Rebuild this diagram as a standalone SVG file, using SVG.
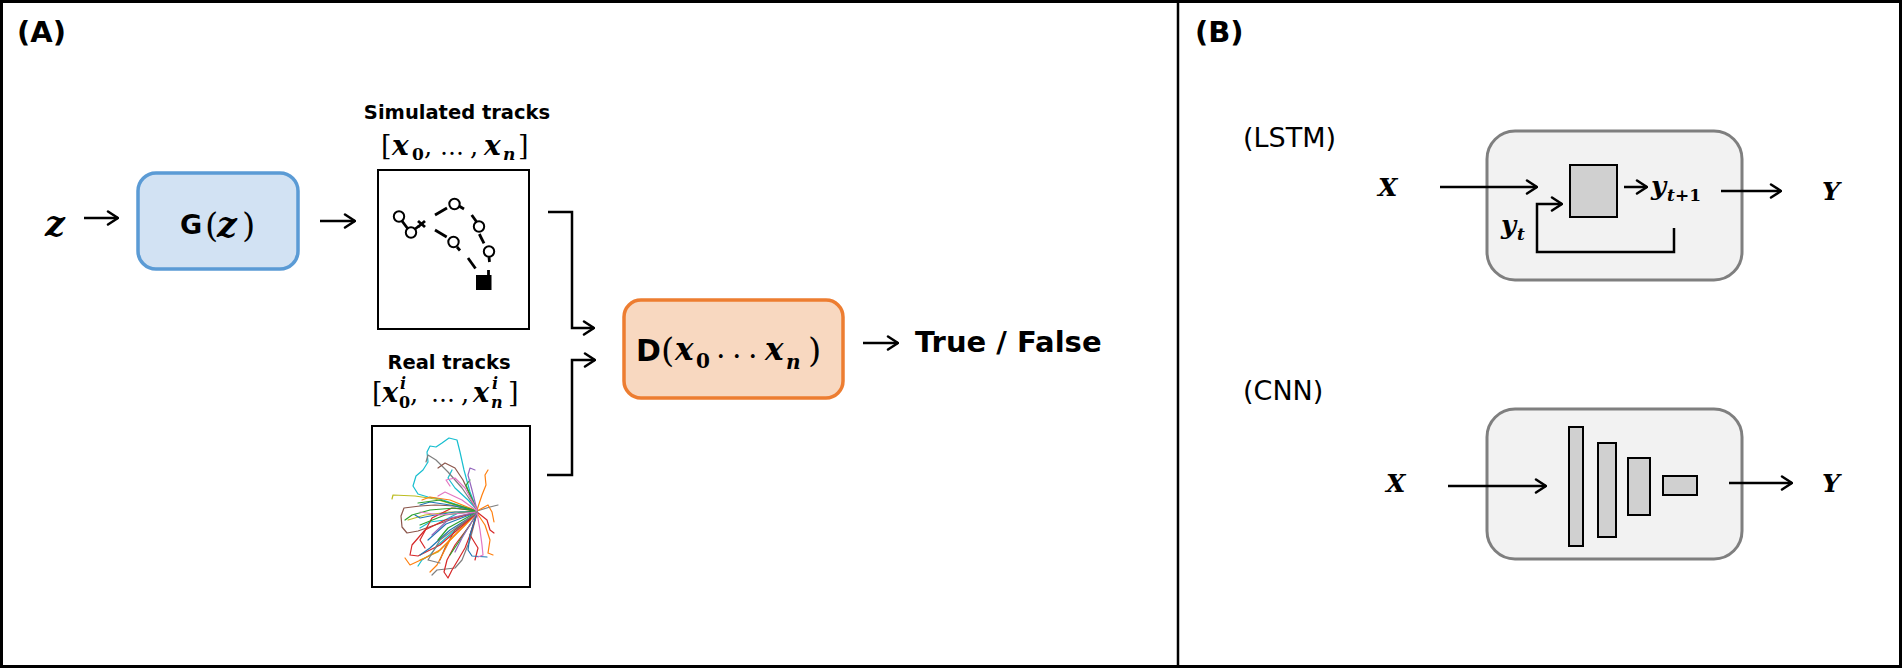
<svg xmlns="http://www.w3.org/2000/svg" width="1902" height="668" viewBox="0 0 1902 668">
<defs>
<marker id="ah" viewBox="0 0 13 16" markerWidth="13" markerHeight="16" refX="12" refY="8" orient="auto" markerUnits="userSpaceOnUse">
<path d="M2,1.5 L12,8 L2,14.5" fill="none" stroke="#000" stroke-width="2.5" stroke-linecap="round" stroke-linejoin="round"/>
</marker>
<style>
.lbl{font-family:"DejaVu Sans",sans-serif;font-weight:bold;fill:#000}
.reg{font-family:"DejaVu Sans",sans-serif;fill:#000}
.m{font-family:"DejaVu Serif",serif;font-weight:bold;font-style:italic;fill:#000}
.mr{font-family:"DejaVu Serif",serif;fill:#000}
.mb{font-family:"DejaVu Serif",serif;font-weight:bold;fill:#000}
.arr{fill:none;stroke:#000;stroke-width:2.5;marker-end:url(#ah)}
.frame{fill:#fff;stroke:#000;stroke-width:2}
.gbox{fill:#f2f2f2;stroke:#7f7f7f;stroke-width:3}
.cell{fill:#d0d0d0;stroke:#000;stroke-width:2}
.trk circle{fill:#fff;stroke:#000;stroke-width:2}
.trk line{stroke:#000;stroke-width:2.8}
.tangle path{fill:none;stroke-width:1.2;stroke-linejoin:round;stroke-linecap:round}
</style>
</defs>
<rect x="1.5" y="1.5" width="1899" height="665" fill="#fff" stroke="#000" stroke-width="3"/>
<line x1="1178" y1="1.5" x2="1178" y2="666.5" stroke="#000" stroke-width="2.5"/>

<text class="lbl" x="17" y="42" font-size="29">(A)</text>
<text class="lbl" x="1195" y="42" font-size="29">(B)</text>

<g id="z-input">
<text class="m" x="45" y="236" font-size="35">z</text>
</g>

<g id="generator">
<rect x="138" y="173" width="160" height="96" rx="18" fill="#d2e2f3" stroke="#5b9bd5" stroke-width="3.5"/>
<text y="234"><tspan class="lbl" x="180" font-size="27">G</tspan><tspan class="mr" x="205" y="237" font-size="34">(</tspan><tspan class="m" x="217" y="237" font-size="35">z</tspan><tspan class="mr" x="242" y="237" font-size="34">)</tspan></text>
</g>

<g id="simulated">
<text class="lbl" x="457" y="119" font-size="19.5" text-anchor="middle">Simulated tracks</text>
<text y="155"><tspan class="mr" x="381" font-size="27">[</tspan><tspan class="m" x="392" font-size="28">x</tspan><tspan class="mb" x="412" y="160" font-size="17">0</tspan><tspan class="mr" x="424" y="155" font-size="26">,</tspan><tspan class="mr" x="440" font-size="24">…</tspan><tspan class="mr" x="470" font-size="26">,</tspan><tspan class="m" x="484" font-size="28">x</tspan><tspan class="m" x="503" y="160" font-size="17">n</tspan><tspan class="mr" x="518" y="155" font-size="27">]</tspan></text>
<rect class="frame" x="378" y="170" width="151" height="159"/>
<g class="trk">
<line x1="402" y1="221" x2="408" y2="229"/>
<line x1="415" y1="229" x2="419" y2="226"/>
<line x1="418" y1="221" x2="425" y2="227"/>
<line x1="418" y1="227" x2="425" y2="221"/>
<line x1="435" y1="215" x2="447" y2="208"/>
<line x1="459" y1="206" x2="464" y2="209"/>
<line x1="471.7" y1="215" x2="476.7" y2="222"/>
<line x1="479.3" y1="234" x2="484" y2="243.3"/>
<line x1="489" y1="257" x2="489.5" y2="262"/>
<line x1="488.5" y1="270" x2="488.5" y2="276"/>
<line x1="435" y1="230" x2="446.7" y2="237"/>
<line x1="457" y1="247" x2="460" y2="250.5"/>
<line x1="468" y1="258" x2="475.5" y2="268.5"/>
<circle cx="399" cy="216.5" r="5.2"/>
<circle cx="411" cy="232.5" r="5.2"/>
<circle cx="454.5" cy="204" r="5.2"/>
<circle cx="479" cy="226.5" r="5.2"/>
<circle cx="453.5" cy="242" r="5.2"/>
<circle cx="489" cy="251.5" r="5.2"/>
<rect x="476" y="275" width="15.5" height="15" fill="#000"/>
</g>
</g>

<g id="real">
<text class="lbl" x="449" y="369" font-size="19.5" text-anchor="middle">Real tracks</text>
<text y="402"><tspan class="mr" x="372" font-size="27">[</tspan><tspan class="m" x="382" font-size="27">x</tspan><tspan class="m" x="400" y="389" font-size="16">i</tspan><tspan class="mb" x="399" y="408" font-size="16">0</tspan><tspan class="mr" x="410" y="402" font-size="26">,</tspan><tspan class="mr" x="431" font-size="24">…</tspan><tspan class="mr" x="461" font-size="26">,</tspan><tspan class="m" x="473" font-size="27">x</tspan><tspan class="m" x="492" y="389" font-size="16">i</tspan><tspan class="m" x="491" y="408" font-size="16">n</tspan><tspan class="mr" x="508" y="402" font-size="27">]</tspan></text>
<rect class="frame" x="372" y="426" width="158" height="161"/>
<g class="tangle">
<path stroke="#17becf" d="M477,510 L470,492 L464,470 L460,452 L457,440 L449,438 L442,443 L436,447 L430,446 L427,452 L428,462 L423,470 L416,476 L413,486 L418,494 L428,497 L440,499 L458,505 L477,511"/>
<path stroke="#17becf" d="M477,512 L455,530 L438,545 L430,555 L422,560 L418,566"/>
<path stroke="#17becf" d="M477,511 L460,512 L445,520 L430,522 L420,528"/>
<path stroke="#17becf" d="M477,510 L468,500 L455,488 L448,478 L452,470"/>
<path stroke="#7f7f7f" d="M477,510 L462,488 L448,472 L436,460 L428,455 L426,462"/>
<path stroke="#7f7f7f" d="M477,511 L490,507 L498,505"/>
<path stroke="#7f7f7f" d="M477,513 L470,540 L462,560 L455,568 L437,570 L432,575"/>
<path stroke="#8c564b" d="M477,511 L455,506 L435,505 L420,506 L404,508 L401,516 L402,527 L407,533 L418,531 L432,526 L450,520 L477,512"/>
<path stroke="#8c564b" d="M477,510 L463,480 L455,468 L445,463 L438,468"/>
<path stroke="#8c564b" d="M477,512 L455,530 L445,548 L440,560"/>
<path stroke="#bcbd22" d="M477,511 L455,505 L435,499 L415,496 L393,495 L392,499"/>
<path stroke="#bcbd22" d="M477,513 L455,535 L438,552 L420,560"/>
<path stroke="#bcbd22" d="M477,512 L450,512 L425,515 L408,520"/>
<path stroke="#ff7f0e" d="M477,510 L482,495 L486,485 L485,475 L488,470"/>
<path stroke="#ff7f0e" d="M477,513 L485,525 L490,540 L488,553 L493,555"/>
<path stroke="#ff7f0e" d="M477,513 L455,535 L440,550 L425,558 L410,565 L405,558"/>
<path stroke="#ff7f0e" d="M477,511 L450,500 L430,497 L422,500"/>
<path stroke="#ff7f0e" d="M477,512 L465,525 L450,540 L437,565 L430,572"/>
<path stroke="#ff7f0e" d="M477,511 L488,505 L492,512 L494,522"/>
<path stroke="#d62728" d="M477,513 L472,530 L465,548 L458,560 L452,570 L448,578 L444,572 L447,560 L455,545 L470,525"/>
<path stroke="#d62728" d="M477,512 L445,520 L425,530 L412,545 L410,555 L418,556 L440,545 L477,513"/>
<path stroke="#d62728" d="M477,512 L487,520 L490,530 L494,533"/>
<path stroke="#d62728" d="M477,512 L470,535 L478,548 L475,560"/>
<path stroke="#d62728" d="M477,511 L452,508 L432,518 L420,540 L425,548"/>
<path stroke="#1f77b4" d="M477,512 L455,512 L435,515 L420,518 L415,515"/>
<path stroke="#1f77b4" d="M477,513 L470,535 L468,550 L472,556 L487,557"/>
<path stroke="#1f77b4" d="M477,513 L450,530 L430,548 L420,555"/>
<path stroke="#1f77b4" d="M477,511 L450,505 L430,502 L420,505"/>
<path stroke="#1f77b4" d="M477,512 L446,524 L428,540"/>
<path stroke="#2ca02c" d="M477,511 L455,508 L430,510 L412,515 L405,520"/>
<path stroke="#2ca02c" d="M477,510 L470,495 L466,485 L470,480"/>
<path stroke="#2ca02c" d="M477,514 L460,540 L450,555"/>
<path stroke="#2ca02c" d="M477,511 L445,515 L420,525"/>
<path stroke="#2ca02c" d="M477,511 L440,500 L418,503"/>
<path stroke="#2ca02c" d="M477,512 L448,528 L438,540"/>
<path stroke="#9467bd" d="M477,510 L472,490 L468,475 L470,468 L475,470"/>
<path stroke="#9467bd" d="M477,513 L462,538 L455,552"/>
<path stroke="#9467bd" d="M477,512 L450,518 L432,535"/>
<path stroke="#e377c2" d="M477,510 L465,488 L455,478 L446,480 L450,486"/>
<path stroke="#e377c2" d="M477,513 L480,530 L482,545 L483,555 L478,557"/>
<path stroke="#e377c2" d="M477,512 L440,515 L420,512"/>
<path stroke="#e377c2" d="M477,511 L462,500 L445,492 L438,496"/>
<path stroke="#7f7f7f" d="M477,512 L440,540 L428,560 L440,563"/>
</g>
</g>

<g id="discriminator">
<rect x="624" y="300" width="219" height="98" rx="17" fill="#f8d8c0" stroke="#ed7d31" stroke-width="3.5"/>
<text y="361"><tspan class="lbl" x="636" font-size="30">D</tspan><tspan class="mr" x="661" y="362" font-size="34">(</tspan><tspan class="m" x="675" y="360" font-size="31">x</tspan><tspan class="mb" x="696" y="368" font-size="20">0</tspan><tspan class="mr" x="716" y="358" font-size="30">.</tspan><tspan class="mr" x="732" font-size="30">.</tspan><tspan class="mr" x="748" font-size="30">.</tspan><tspan class="m" x="765" y="360" font-size="31">x</tspan><tspan class="m" x="786" y="369" font-size="20">n</tspan><tspan class="mr" x="808" y="362" font-size="34">)</tspan></text>
</g>

<g id="output">
<text class="lbl" x="915" y="352" font-size="29">True / False</text>
</g>

<g id="lstm">
<text class="reg" x="1243" y="147" font-size="27">(LSTM)</text>
<text class="m" x="1378" y="196" font-size="25">X</text>
<rect class="gbox" x="1487" y="131" width="255" height="149" rx="28"/>
<rect class="cell" x="1570" y="165" width="47" height="52"/>
<text y="195"><tspan class="m" x="1651" font-size="26">y</tspan><tspan class="m" x="1667" y="201" font-size="17">t</tspan><tspan class="mb" x="1675" y="201" font-size="17">+1</tspan></text>
<text y="234"><tspan class="m" x="1501" font-size="26">y</tspan><tspan class="m" x="1517" y="240" font-size="17">t</tspan></text>
<text class="m" x="1822" y="200" font-size="25">Y</text>
</g>

<g id="cnn">
<text class="reg" x="1243" y="400" font-size="27">(CNN)</text>
<text class="m" x="1386" y="492" font-size="25">X</text>
<rect class="gbox" x="1487" y="409" width="255" height="150" rx="28"/>
<rect class="cell" x="1569" y="427" width="14" height="119"/>
<rect class="cell" x="1598" y="443" width="18" height="94"/>
<rect class="cell" x="1628" y="458" width="22" height="57"/>
<rect class="cell" x="1663" y="476" width="34" height="19"/>
<text class="m" x="1822" y="492" font-size="25">Y</text>
</g>

<g id="connectors">
<path class="arr" d="M84,218 H118"/>
<path class="arr" d="M320,221 H355"/>
<path class="arr" d="M548,212 H572 V328 H594"/>
<path class="arr" d="M547,475 H572 V360 H595"/>
<path class="arr" d="M863,343 H898"/>
<path class="arr" d="M1440,187 H1537"/>
<path class="arr" d="M1674,228 V252 H1537 V204 H1562"/>
<path class="arr" d="M1624,187 H1647"/>
<path class="arr" d="M1721,191 H1781"/>
<path class="arr" d="M1448,486 H1546"/>
<path class="arr" d="M1729,483 H1792"/>
</g>
</svg>
